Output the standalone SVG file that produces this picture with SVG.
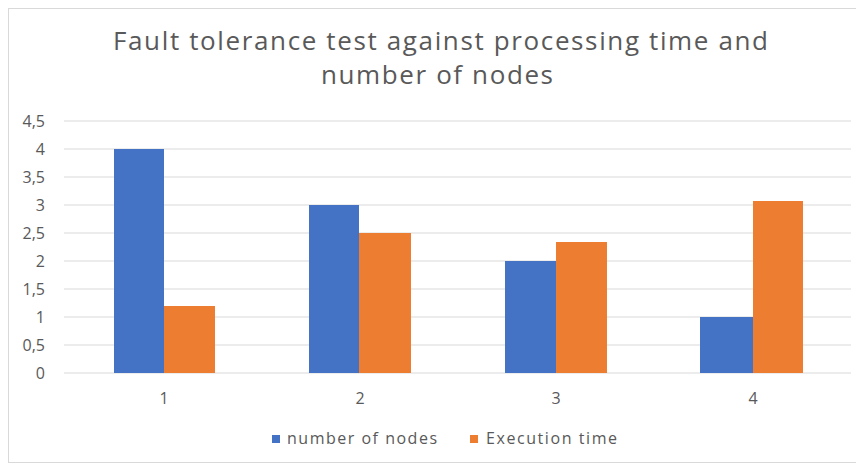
<svg xmlns="http://www.w3.org/2000/svg" width="856" height="466" viewBox="0 0 856 466">
<style>
.t{font-family:"Open Sans","Noto Sans",sans-serif;fill:#595959}
.title{font-size:26px}
.ax{font-size:16px}
.lg{font-size:16px}
.grid{stroke:#d9d9d9;stroke-width:1}
.b{fill:#4472c4}
.o{fill:#ed7d31}
</style>
<rect x="0" y="0" width="856" height="466" fill="#ffffff"/>
<rect x="8.5" y="8.5" width="860" height="454" fill="none" stroke="#d9d9d9" stroke-width="1"/>
<g id="title">
<text class="t title" x="113" y="50" textLength="655" lengthAdjust="spacing">Fault tolerance test against processing time and</text>
<text class="t title" x="321" y="84" textLength="232" lengthAdjust="spacing">number of nodes</text>
</g>
<g id="gridlines">
<line class="grid" x1="64" x2="851" y1="121" y2="121"/>
<line class="grid" x1="64" x2="851" y1="149" y2="149"/>
<line class="grid" x1="64" x2="851" y1="177" y2="177"/>
<line class="grid" x1="64" x2="851" y1="205" y2="205"/>
<line class="grid" x1="64" x2="851" y1="233" y2="233"/>
<line class="grid" x1="64" x2="851" y1="261" y2="261"/>
<line class="grid" x1="64" x2="851" y1="289" y2="289"/>
<line class="grid" x1="64" x2="851" y1="317" y2="317"/>
<line class="grid" x1="64" x2="851" y1="345" y2="345"/>
<line class="grid" x1="64" x2="851" y1="373" y2="373"/>
</g>
<g id="y-axis">
<text class="t ax" x="45" y="127" text-anchor="end">4,5</text>
<text class="t ax" x="45" y="155" text-anchor="end">4</text>
<text class="t ax" x="45" y="183" text-anchor="end">3,5</text>
<text class="t ax" x="45" y="211" text-anchor="end">3</text>
<text class="t ax" x="45" y="239" text-anchor="end">2,5</text>
<text class="t ax" x="45" y="267" text-anchor="end">2</text>
<text class="t ax" x="45" y="295" text-anchor="end">1,5</text>
<text class="t ax" x="45" y="323" text-anchor="end">1</text>
<text class="t ax" x="45" y="351" text-anchor="end">0,5</text>
<text class="t ax" x="45" y="379" text-anchor="end">0</text>
</g>
<g id="bars">
<rect class="b" x="114" y="149" width="50" height="224"/>
<rect class="o" x="164" y="306" width="51" height="67"/>
<rect class="b" x="309" y="205" width="50" height="168"/>
<rect class="o" x="359" y="233" width="52" height="140"/>
<rect class="b" x="505" y="261" width="51" height="112"/>
<rect class="o" x="556" y="242" width="51" height="131"/>
<rect class="b" x="700" y="317" width="53" height="56"/>
<rect class="o" x="753" y="201" width="50" height="172"/>
</g>
<g id="x-axis">
<text class="t ax" x="164" y="404" text-anchor="middle">1</text>
<text class="t ax" x="360" y="404" text-anchor="middle">2</text>
<text class="t ax" x="556" y="404" text-anchor="middle">3</text>
<text class="t ax" x="753" y="404" text-anchor="middle">4</text>
</g>
<g id="legend">
<rect class="b" x="272" y="435" width="8" height="8"/>
<text class="t lg" x="287" y="444" textLength="150" lengthAdjust="spacing">number of nodes</text>
<rect class="o" x="470" y="435" width="8" height="8"/>
<text class="t lg" x="486" y="444" textLength="131" lengthAdjust="spacing">Execution time</text>
</g>
</svg>
